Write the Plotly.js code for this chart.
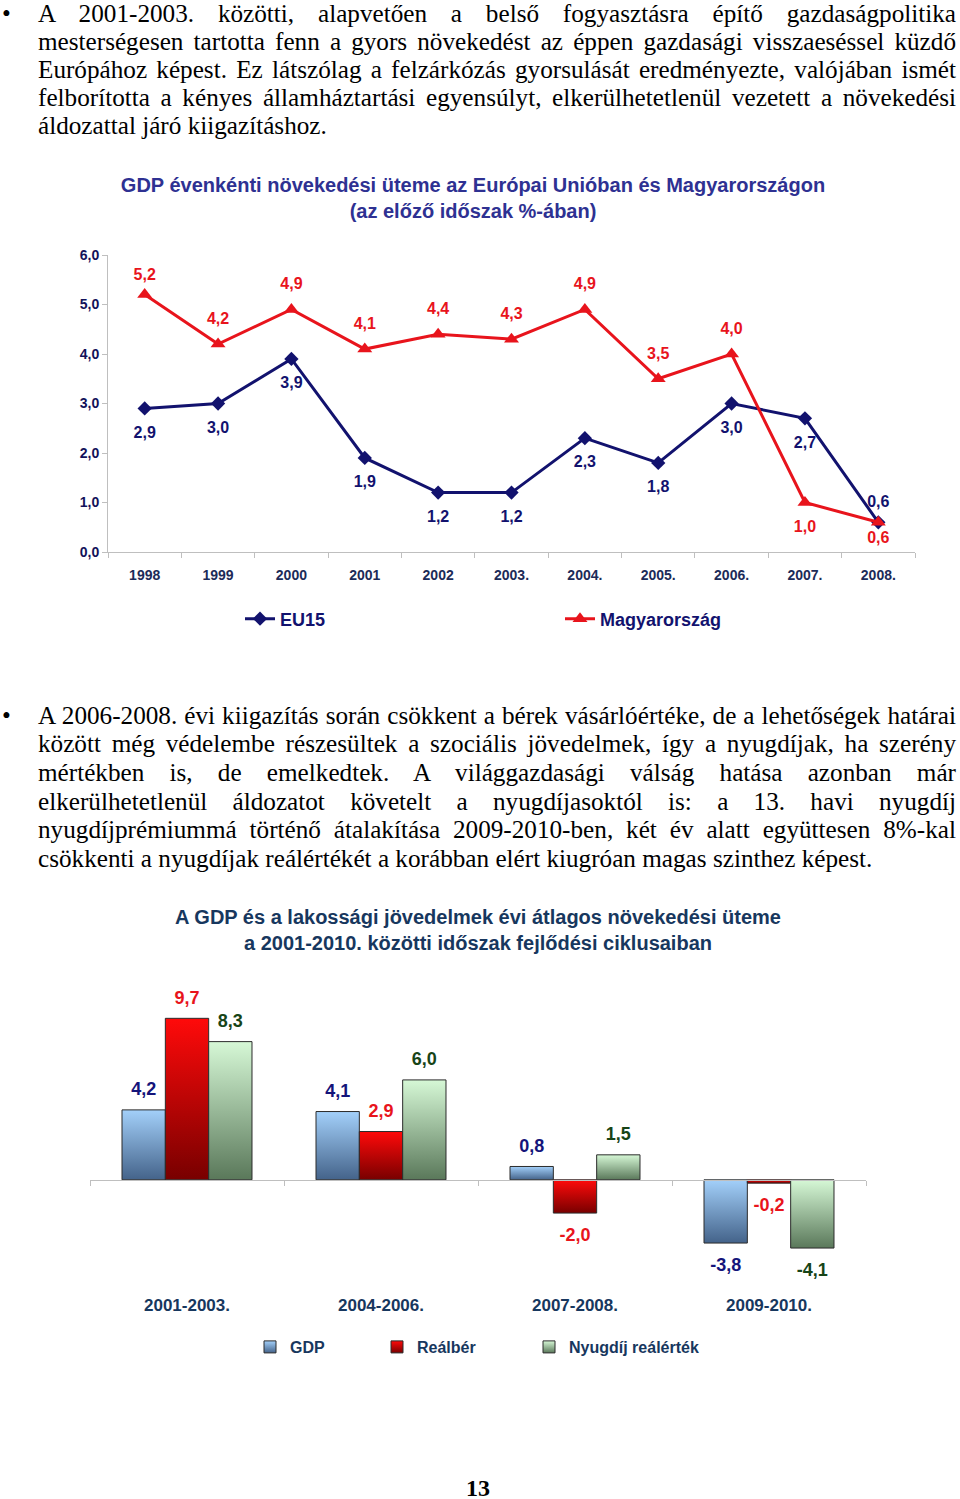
<!DOCTYPE html>
<html>
<head>
<meta charset="utf-8">
<script src="https://cdn.plot.ly/plotly-3.0.1.min.js"></script>
<style>
  html,body{margin:0;padding:0;background:#fff;}
  body{width:960px;height:1499px;position:relative;overflow:hidden;}
  .para{position:absolute;left:38px;width:918px;font-family:'Liberation Serif','Times New Roman',serif;font-size:25.2px;color:#000;}
  .ln{height:28.7px;line-height:28.7px;text-align:justify;text-align-last:justify;}
  .ln.last{text-align-last:left;}
  .first .ln{height:28px;line-height:28px;}
  .bul{position:absolute;left:2px;font-family:'Liberation Serif','Times New Roman',serif;font-size:25.2px;line-height:28.7px;color:#000;}
  #c1{position:absolute;left:0;top:150px;width:960px;height:510px;}
  #c2{position:absolute;left:0;top:880px;width:960px;height:500px;}
  .pg{position:absolute;left:0;width:956px;top:1477px;text-align:center;font-family:'Liberation Serif','Times New Roman',serif;font-weight:bold;font-size:24px;line-height:22px;color:#000;}
</style>
</head>
<body>
<div class="bul" style="top:0px;line-height:28px">•</div>
<div class="para first" style="top:0px">
  <div class="ln">A 2001-2003. közötti, alapvetően a belső fogyasztásra építő gazdaságpolitika</div>
  <div class="ln">mesterségesen tartotta fenn a gyors növekedést az éppen gazdasági visszaeséssel küzdő</div>
  <div class="ln">Európához képest. Ez látszólag a felzárkózás gyorsulását eredményezte, valójában ismét</div>
  <div class="ln">felborította a kényes államháztartási egyensúlyt, elkerülhetetlenül vezetett a növekedési</div>
  <div class="ln last">áldozattal járó kiigazításhoz.</div>
</div>

<div id="c1"></div>

<div class="bul" style="top:701.5px">•</div>
<div class="para" style="top:701.5px">
  <div class="ln">A 2006-2008. évi kiigazítás során csökkent a bérek vásárlóértéke, de a lehetőségek határai</div>
  <div class="ln">között még védelembe részesültek a szociális jövedelmek, így a nyugdíjak, ha szerény</div>
  <div class="ln">mértékben is, de emelkedtek. A világgazdasági válság hatása azonban már</div>
  <div class="ln">elkerülhetetlenül áldozatot követelt a nyugdíjasoktól is: a 13. havi nyugdíj</div>
  <div class="ln">nyugdíjprémiummá történő átalakítása 2009-2010-ben, két év alatt együttesen 8%-kal</div>
  <div class="ln last">csökkenti a nyugdíjak reálértékét a korábban elért kiugróan magas szinthez képest.</div>
</div>

<div id="c2"></div>

<div class="pg">13</div>

<script>
// ---------- Chart 1 data ----------
const years = ['1998', '1999', '2000', '2001', '2002', '2003.', '2004.', '2005.', '2006.', '2007.', '2008.'];
const eu15 = [2.9, 3.0, 3.9, 1.9, 1.2, 1.2, 2.3, 1.8, 3.0, 2.7, 0.6];
const hungary = [5.2, 4.2, 4.9, 4.1, 4.4, 4.3, 4.9, 3.5, 4.0, 1.0, 0.6];
const eu15LabelPos = ['below', 'below', 'below', 'below', 'below', 'below', 'below', 'below', 'below', 'below', 'aboveNear'];
const hungaryLabelPos = ['aboveNear', 'above', 'above', 'above', 'above', 'above', 'above', 'above', 'above', 'below', 'belowNear'];

// ---------- Chart 2 data ----------
const periods = ['2001-2003.', '2004-2006.', '2007-2008.', '2009-2010.'];
const gdp = [4.2, 4.1, 0.8, -3.8];
const realWage = [9.7, 2.9, -2.0, -0.2];
const pensionReal = [8.3, 6.0, 1.5, -4.1];

const FONT = 'Arial, "Liberation Sans", Helvetica, sans-serif';
const NAVY = '#12126e';
const RED = '#e8141c';
const fmt = v => v.toFixed(1).replace('.', ',');

// ---------- Chart 1 ----------
// label placement: text position + (invisible) marker size that sets the gap
const posStyle = {
  above:     {pos: 'top center',    size: 24},
  below:     {pos: 'bottom center', size: 26},
  aboveNear: {pos: 'top center',    size: 16},
  belowNear: {pos: 'bottom center', size: 12}
};
function lineLabels(vals, pos, color) {
  return {x: years, y: vals, type: 'scatter', mode: 'markers+text',
    marker: {size: pos.map(p => posStyle[p].size), opacity: 0, color: color},
    text: vals.map(fmt), textposition: pos.map(p => posStyle[p].pos),
    textfont: {family: FONT, size: 16, weight: 'bold', color: color},
    showlegend: false, hoverinfo: 'skip', cliponaxis: false};
}

const data1 = [
  {x: years, y: eu15, name: 'EU15', type: 'scatter', mode: 'lines+markers', legend: 'legend',
   line: {color: NAVY, width: 3}, marker: {symbol: 'diamond', size: 11, color: NAVY}, hoverinfo: 'skip'},
  {x: years, y: hungary, name: 'Magyarország', type: 'scatter', mode: 'lines+markers', legend: 'legend2',
   line: {color: RED, width: 3}, marker: {symbol: 'triangle-up', size: 13, color: RED}, hoverinfo: 'skip'},
  lineLabels(eu15, eu15LabelPos, NAVY),
  lineLabels(hungary, hungaryLabelPos, RED)
];

const leg1Base = {
  orientation: 'h', xref: 'container', yref: 'container', xanchor: 'left',
  y: 1 - 469 / 510, yanchor: 'middle',
  font: {family: FONT, size: 18, weight: 'bold', color: NAVY},
  bgcolor: 'rgba(0,0,0,0)'
};

const layout1 = {
  width: 960, height: 510,
  margin: {l: 108, r: 45, t: 105, b: 108},
  paper_bgcolor: '#fff', plot_bgcolor: '#fff',
  separators: ', ',
  title: {
    text: 'GDP évenkénti növekedési üteme az Európai Unióban és Magyarországon<br>(az előző időszak %-ában)',
    x: 473 / 960, xref: 'container', xanchor: 'center',
    y: 1 - 42 / 510, yref: 'container', yanchor: 'middle',
    font: {family: FONT, size: 20, weight: 'bold', color: '#2e3192'}
  },
  xaxis: {
    type: 'category', range: [-0.5, 10.5], tickson: 'boundaries',
    ticks: 'outside', ticklen: 5, tickcolor: '#bfbfbf', ticklabelstandoff: 10,
    showline: true, linecolor: '#bfbfbf', linewidth: 1, showgrid: false, zeroline: false,
    tickfont: {family: FONT, size: 14, weight: 'bold', color: '#1c2b58'}
  },
  yaxis: {
    range: [0, 6], dtick: 1, tickformat: '.1f',
    ticks: 'outside', ticklen: 5, tickcolor: '#bfbfbf',
    showline: true, linecolor: '#bfbfbf', linewidth: 1, showgrid: false, zeroline: false,
    tickfont: {family: FONT, size: 14, weight: 'bold', color: '#12125a'}
  },
  showlegend: true,
  legend: Object.assign({}, leg1Base, {x: 240 / 960}),
  legend2: Object.assign({}, leg1Base, {x: 560 / 960})
};

Plotly.newPlot('c1', data1, layout1, {staticPlot: true, displayModeBar: false});

// ---------- Chart 2 ----------
const Y2MIN = -6.8, Y2MAX = 10.5;
const barColors = {gdp: '#7196c4', wage: '#c00000', pension: '#9cc49c'};
const labelColors = {gdp: '#14147a', wage: RED, pension: '#174417'};

function barTrace(vals, name, color, leg) {
  return {x: periods, y: vals, name: name, type: 'bar', legend: leg,
    marker: {color: color, line: {color: '#2b2b2b', width: 1}}, hoverinfo: 'skip'};
}
function labelTrace(vals, color, grp) {
  return {x: periods, y: vals, type: 'scatter', mode: 'markers+text', orientation: 'v',
    offsetgroup: grp, alignmentgroup: 'lbl',
    marker: {size: vals.map(v => v >= 0 ? 14.4 : 20.8), opacity: 0, color: color},
    text: vals.map(fmt), textposition: vals.map(v => v >= 0 ? 'top center' : 'bottom center'),
    textfont: {family: FONT, size: 18, weight: 'bold', color: color},
    showlegend: false, hoverinfo: 'skip', cliponaxis: false};
}

const data2 = [
  barTrace(gdp, 'GDP', barColors.gdp, 'legend'),
  barTrace(realWage, 'Reálbér', barColors.wage, 'legend2'),
  barTrace(pensionReal, 'Nyugdíj reálérték', barColors.pension, 'legend3'),
  labelTrace(gdp, labelColors.gdp, 'g1'),
  labelTrace(realWage, labelColors.wage, 'g2'),
  labelTrace(pensionReal, labelColors.pension, 'g3'),
  {x: periods, y: gdp, xaxis: 'x2', yaxis: 'y', type: 'scatter', mode: 'markers',
   marker: {opacity: 0}, showlegend: false, hoverinfo: 'skip'}
];

const leg2Base = {
  orientation: 'h', xref: 'container', yref: 'container', xanchor: 'left',
  y: 1 - 467 / 500, yanchor: 'middle',
  font: {family: FONT, size: 16, weight: 'bold', color: '#17375e'},
  bgcolor: 'rgba(0,0,0,0)'
};

const layout2 = {
  width: 960, height: 500,
  margin: {l: 90, r: 94, t: 124.6, b: 86.5},
  paper_bgcolor: '#fff', plot_bgcolor: 'rgba(0,0,0,0)',
  separators: ', ',
  barmode: 'group', bargap: 0.33, bargroupgap: 0,
  scattermode: 'group', scattergap: 0.33,
  title: {
    text: 'A GDP és a lakossági jövedelmek évi átlagos növekedési üteme<br>a 2001-2010. közötti időszak fejlődési ciklusaiban',
    x: 478 / 960, xref: 'container', xanchor: 'center',
    y: 1 - 44 / 500, yref: 'container', yanchor: 'middle',
    font: {family: FONT, size: 20, weight: 'bold', color: '#17375e'}
  },
  xaxis: {
    type: 'category', categoryarray: periods, range: [-0.5, 3.5],
    showline: false, ticks: '', showgrid: false, zeroline: false,
    tickfont: {family: FONT, size: 17, weight: 'bold', color: '#17375e'}
  },
  xaxis2: {
    type: 'category', categoryarray: periods, range: [-0.5, 3.5],
    overlaying: 'x', anchor: 'free', position: (0 - Y2MIN) / (Y2MAX - Y2MIN), side: 'bottom',
    tickson: 'boundaries', ticks: 'outside', ticklen: 5, tickcolor: '#bfbfbf',
    showline: true, linecolor: '#bfbfbf', linewidth: 1, showgrid: false, zeroline: false,
    showticklabels: false
  },
  yaxis: {range: [Y2MIN, Y2MAX], visible: false, showgrid: false, zeroline: false},
  showlegend: true,
  legend: Object.assign({}, leg2Base, {x: 250 / 960}),
  legend2: Object.assign({}, leg2Base, {x: 377 / 960}),
  legend3: Object.assign({}, leg2Base, {x: 529 / 960})
};

const gradients = [
  {id: 'gradGdp', top: '#a3d0fa', bottom: '#44638a'},
  {id: 'gradWage', top: '#ff0a0a', bottom: '#780000'},
  {id: 'gradPension', top: '#d6f8d6', bottom: '#5a785a'}
];

Plotly.newPlot('c2', data2, layout2, {staticPlot: true, displayModeBar: false}).then(gd => {
  const svgNS = 'http://www.w3.org/2000/svg';
  const svg = gd.querySelector('svg.main-svg');
  let defs = svg.querySelector('defs');
  if (!defs) { defs = document.createElementNS(svgNS, 'defs'); svg.insertBefore(defs, svg.firstChild); }
  gradients.forEach(g => {
    const lg = document.createElementNS(svgNS, 'linearGradient');
    lg.setAttribute('id', g.id);
    lg.setAttribute('x1', '0'); lg.setAttribute('y1', '0');
    lg.setAttribute('x2', '0'); lg.setAttribute('y2', '1');
    [[0, g.top], [1, g.bottom]].forEach(([o, c]) => {
      const st = document.createElementNS(svgNS, 'stop');
      st.setAttribute('offset', o);
      st.setAttribute('stop-color', c);
      lg.appendChild(st);
    });
    defs.appendChild(lg);
  });
  const barTraces = gd.querySelectorAll('.barlayer .trace');
  barTraces.forEach((tr, i) => {
    if (!gradients[i]) return;
    tr.querySelectorAll('path').forEach(p => { p.style.fill = 'url(#' + gradients[i].id + ')'; });
  });
  const legends = ['legend', 'legend2', 'legend3'];
  legends.forEach((name, i) => {
    gd.querySelectorAll('.' + name + ' .legendpoints path').forEach(p => {
      p.style.fill = 'url(#' + gradients[i].id + ')';
    });
  });
});
</script>
</body>
</html>
